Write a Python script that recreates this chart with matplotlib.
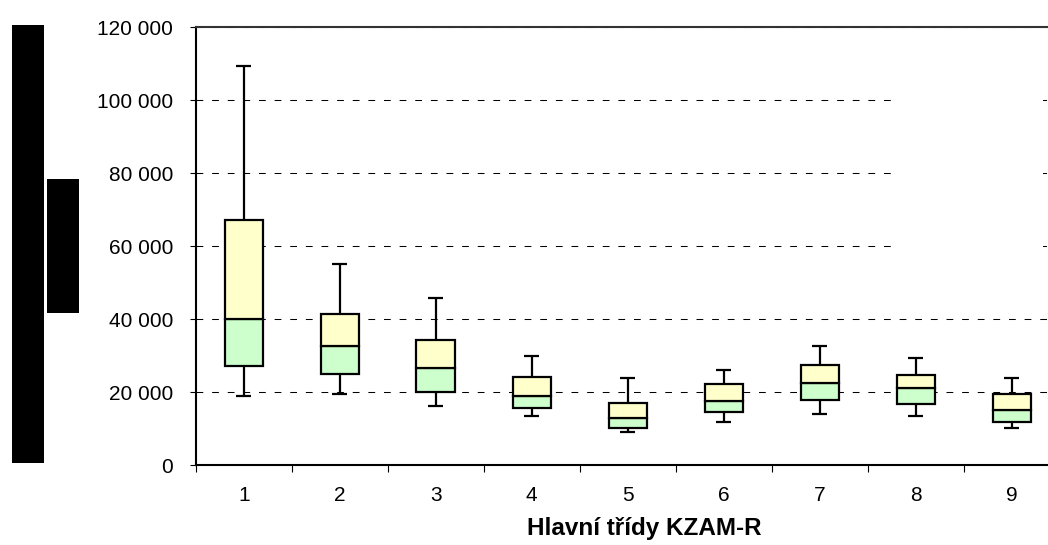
import matplotlib
matplotlib.use("Agg")
import matplotlib.pyplot as plt
from matplotlib.patches import Rectangle
from matplotlib.ticker import FuncFormatter, FixedLocator

# box plot data for the 9 main classes
classes = [1, 2, 3, 4, 5, 6, 7, 8, 9]
whisker_low = [18900, 19500, 16200, 13400, 9000, 11800, 14000, 13400, 10100]
q1 = [27200, 24900, 20000, 15700, 10100, 14500, 17800, 16700, 11800]
median = [40000, 32700, 26600, 19000, 13000, 17700, 22600, 21100, 15100]
q3 = [67100, 41400, 34200, 24300, 17100, 22200, 27600, 24800, 19400]
whisker_high = [109400, 55100, 45800, 30000, 23800, 26000, 32600, 29300, 23800]

W, H = 1048, 545
fig = plt.figure(figsize=(W / 100, H / 100), dpi=100)
plt.rcParams['font.family'] = ['Liberation Sans', 'DejaVu Sans']

# axes runs past the right edge of the picture, like the reference
ax = fig.add_axes([195.7 / W, 79.7 / H, 864 / W, 438 / H])

box_w = 0.4
cap_w = 0.16
lw = 1.6

ax.vlines(classes, whisker_low, q1, colors='black', lw=lw, zorder=2)
ax.vlines(classes, q3, whisker_high, colors='black', lw=lw, zorder=2)
for x, lo, hi in zip(classes, whisker_low, whisker_high):
    ax.hlines([lo, hi], x - cap_w / 2, x + cap_w / 2, colors='black', lw=lw, zorder=2)

low_part = [m - a for m, a in zip(median, q1)]
high_part = [b - m for b, m in zip(q3, median)]
ax.bar(classes, low_part, bottom=q1, width=box_w, color='#CCFFCC',
       edgecolor='black', linewidth=lw, zorder=3)
ax.bar(classes, high_part, bottom=median, width=box_w, color='#FFFFCC',
       edgecolor='black', linewidth=lw, zorder=3)

ax.set_xlim(0.5, 9.5)
ax.set_ylim(0, 120000)
ax.set_yticks(range(0, 120001, 20000))
ax.yaxis.set_major_formatter(FuncFormatter(lambda v, p: f"{int(v):,}".replace(",", " ")))
ax.set_xticks(classes)
ax.set_xticklabels([str(c) for c in classes])
ax.xaxis.set_minor_locator(FixedLocator([i + 0.5 for i in range(0, 10)]))

ax.tick_params(axis='y', direction='out', length=4.3, width=0.8, pad=12, labelsize=15)
ax.tick_params(axis='x', which='major', length=0, pad=15, labelsize=15)
ax.tick_params(axis='x', which='minor', direction='out', length=5, width=0.8)

ax.set_axisbelow(True)
ax.yaxis.grid(True, color='black', lw=0.75, linestyle=(0, (6.5, 8.5)))

for s in ['left', 'bottom', 'top']:
    ax.spines[s].set_color('black')
    ax.spines[s].set_linewidth(1.5)
ax.spines['top'].set_color('#333333')
ax.spines['right'].set_visible(False)

# blank area where the grid lines are broken
ax.add_patch(Rectangle((896 / W, (H - 290) / H), 147 / W, 230 / H,
                       transform=fig.transFigure, facecolor='white',
                       edgecolor='none', zorder=0.8))

fig.text(644.5 / W, 17 / H, 'Hlavní třídy KZAM-R', ha='center', va='center',
         fontsize=17.5, fontweight='bold')

# black blocks at the left
fig.patches.append(Rectangle((12 / W, 82 / H), 32 / W, 438 / H,
                             transform=fig.transFigure, facecolor='black',
                             edgecolor='none'))
fig.patches.append(Rectangle((47 / W, 232 / H), 32 / W, 134 / H,
                             transform=fig.transFigure, facecolor='black',
                             edgecolor='none'))

fig.savefig('out.png', dpi=100)
